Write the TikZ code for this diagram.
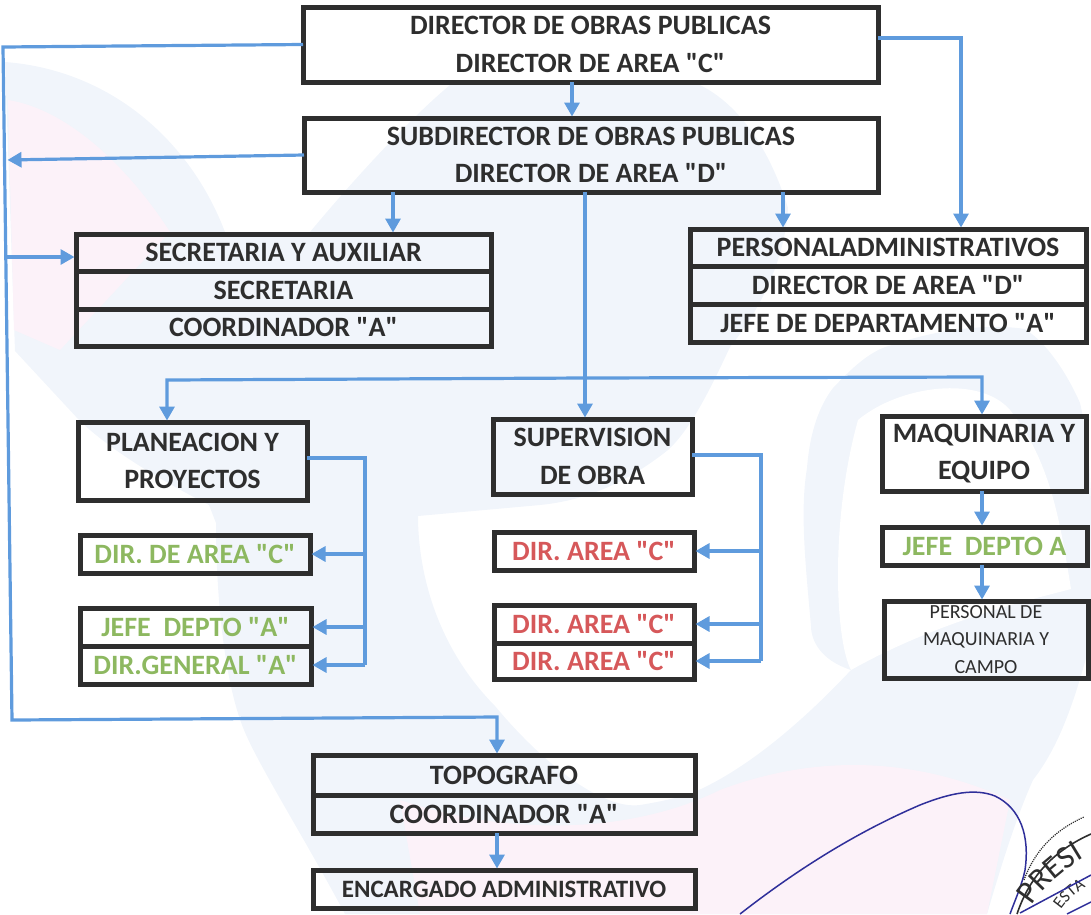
\documentclass[tikz,border=0pt]{standalone}
\usepackage{fontspec}
\newfontfamily\cb{Carlito}
\usetikzlibrary{arrows.meta,decorations.text}
\definecolor{ink}{HTML}{2E2E2E}
\definecolor{gr}{HTML}{8DB860}
\definecolor{rd}{HTML}{D6585A}
\definecolor{ar}{HTML}{5F9BDD}
\definecolor{wblue}{HTML}{F1F5FB}
\definecolor{wpink}{HTML}{FCF2F9}
\definecolor{sig}{HTML}{2F2F9A}
\tikzset{
 x=1pt,y=-1pt,
 boxx/.style={draw=ink,line width=5pt,outer sep=0pt,inner sep=0pt,align=center,text=ink,font=\cb\fontsize{28}{37.5}\selectfont\bfseries},
 conn/.style={draw=ar,line width=3.2pt},
 arr/.style={conn,-{Triangle[length=14pt,width=15pt]},shorten >=1.5pt},
}
\newcommand{\bx}[6]{%
 \node[boxx,#1,minimum width={#4-#2},minimum height={#5-#3},anchor=north west] at (#2,#3) {#6};}
\begin{document}
\begin{tikzpicture}
\useasboundingbox (0,0) rectangle (1091,914);
\clip (0,0) rectangle (1091,914);
% watermark
\fill[wblue] (5,62) .. controls (110,70) and (190,140) .. (225,232) -- (310,232) .. controls (370,160) and (420,110) .. (450,85)
 -- (700,85) .. controls (740,105) and (770,150) .. (788,208) .. controls (785,260) and (760,310) .. (730,347) .. controls (710,390) and (690,430) .. (668,450) .. controls (630,480) and (590,500) .. (540,505) -- (418,516) .. controls (418,560) and (430,640) .. (495,706) .. controls (540,760) and (600,810) .. (640,805) .. controls (670,800) and (690,795) .. (705,787) .. controls (740,770) and (790,735) .. (851,670) .. controls (820,660) and (811,640) .. (811,626) .. controls (805,560) and (800,510) .. (807,468) .. controls (810,430) and (820,405) .. (833,388) .. controls (850,370) and (870,350) .. (892,345) .. controls (950,325) and (1000,325) .. (1025,329) .. controls (1050,345) and (1070,380) .. (1080,403) .. controls (1091,450) and (1091,500) .. (1091,520) -- (1091,640) .. controls (1075,700) and (1060,745) .. (1033,780) .. controls (1015,820) and (1000,870) .. (987,914) -- (345,914) .. controls (300,830) and (255,760) .. (242,725) .. controls (225,680) and (216,600) .. (216,523) -- (209,505) .. controls (160,480) and (110,450) .. (79,420) -- (15,351) -- cycle;
\fill[white] (858,420) .. controls (900,385) and (980,375) .. (1010,410) .. controls (1050,460) and (1060,520) .. (1071,589) .. controls (1030,600) and (940,620) .. (851,670) .. controls (835,640) and (830,520) .. (858,420) -- cycle;
\fill[wpink] (400,800) .. controls (520,840) and (640,830) .. (720,790) .. controls (800,760) and (900,750) .. (1010,800) -- (987,914) -- (420,914) -- cycle;
\fill[wpink] (8,100) .. controls (70,110) and (130,170) .. (170,232) -- (60,350) -- (14,330) -- cycle;
% boxes
\bx{name=dir}{303}{7}{878}{82}{DIRECTOR DE OBRAS PUBLICAS\\DIRECTOR DE AREA "C"}
\bx{name=sub}{304}{118}{878}{192}{SUBDIRECTOR DE OBRAS PUBLICAS\\DIRECTOR DE AREA "D"}
\bx{name=sa}{76}{234}{491}{271}{SECRETARIA Y AUXILIAR}
\bx{name=sb}{76}{271}{491}{309}{SECRETARIA}
\bx{name=sc}{76}{309}{491}{346}{COORDINADOR "A"}
\bx{name=pa}{690}{229}{1086}{266}{PERSONALADMINISTRATIVOS}
\bx{name=pb}{690}{266}{1086}{304}{DIRECTOR DE AREA "D"}
\bx{name=pc}{690}{304}{1086}{342}{JEFE DE DEPARTAMENTO "A"}
\bx{name=plan}{78}{422}{307}{500}{PLANEACION Y\\PROYECTOS}
\bx{name=sup}{493}{419}{692}{494}{SUPERVISION\\DE OBRA}
\bx{name=maq}{882}{416}{1086}{491}{MAQUINARIA Y\\EQUIPO}
\bx{name=g1,text=gr}{80}{535}{310}{573}{DIR. DE AREA "C"}
\bx{name=g2,text=gr}{80}{608}{311}{646}{JEFE\ \ DEPTO "A"}
\bx{name=g3,text=gr}{80}{646}{311}{684}{DIR.GENERAL "A"}
\bx{name=r1,text=rd}{494}{532}{694}{570}{DIR. AREA "C"}
\bx{name=r2,text=rd}{494}{605}{694}{643}{DIR. AREA "C"}
\bx{name=r3,text=rd}{494}{643}{694}{679}{DIR. AREA "C"}
\bx{name=j,text=gr}{882}{527}{1087}{565}{JEFE\ \ DEPTO A}
\node[boxx,name=pm,minimum width=204,minimum height=77,anchor=north west,font=\cb\fontsize{20}{27.5}\selectfont] at (884,601) {PERSONAL DE\\MAQUINARIA Y\\CAMPO};
\bx{name=ta}{313}{755}{695}{795}{TOPOGRAFO}
\bx{name=tb}{313}{795}{695}{833}{COORDINADOR "A"}
\node[boxx,name=enc,minimum width=382,minimum height=38,anchor=north west,font=\cb\fontsize{25}{30}\selectfont\bfseries] at (313,870) {ENCARGADO ADMINISTRATIVO};
% connectors
\coordinate (tl) at (3,47);
\coordinate (tb2) at (12,720);
\coordinate (j1) at (6,160);
\coordinate (j2) at (7,257);
\coordinate (rA) at (961,38);
\coordinate (h1) at (167,380);
\coordinate (h2) at (982,377);
\coordinate (h0) at (585,378);
\coordinate (v1) at (365,458);
\coordinate (v2) at (761,455);
\draw[arr] (dir.west) -- (tl) -- (tb2) -- (497,717) -- ([xshift=-7pt]ta.north);
\draw[arr] ([xshift=-18.5pt]dir.south) -- ([xshift=-19pt]sub.north);
\draw[arr] ([yshift=6.5pt]dir.east) -- (rA) -- ([xshift=73pt]pa.north);
\draw[arr] (sub.west) -- (j1);
\draw[arr] (j2) -- (j2 -| sa.west);
\draw[arr] ([xshift=-198pt]sub.south) -- ([xshift=109.5pt]sa.north);
\draw[arr] ([xshift=192pt]sub.south) -- ([xshift=-105pt]pa.north);
\draw[arr] ([xshift=-6pt]sub.south) -- ([xshift=-7.5pt]sup.north);
\draw[arr] (h0) -- (h1) -- ([xshift=-25.5pt]plan.north);
\draw[arr] (h0) -- (h2) -- ([xshift=-2pt]maq.north);
\draw[conn] ([yshift=3pt]plan.east) -- (v1) -- (v1 |- g3.east);
\draw[arr] (v1 |- g1.east) -- (g1.east);
\draw[arr] (v1 |- g2.east) -- (g2.east);
\draw[arr] (v1 |- g3.east) -- (g3.east);
\draw[conn] ([yshift=1.5pt]sup.east) -- (v2) -- (v2 |- r3.east);
\draw[arr] (v2 |- r1.east) -- (r1.east);
\draw[arr] (v2 |- r2.east) -- (r2.east);
\draw[arr] (v2 |- r3.east) -- (r3.east);
\draw[arr] ([xshift=-2pt]maq.south) -- ([xshift=-2.5pt]j.north);
\draw[arr] ([xshift=-2.5pt]j.south) -- ([xshift=-4pt]pm.north);
\draw[arr] ([xshift=-7pt]tb.south) -- ([xshift=-7pt]enc.north);
% signature and stamp
\draw[sig,line width=1.5pt] (740,914) .. controls (790,875) and (850,835) .. (920,805) .. controls (950,793) and (975,788) .. (995,796) .. controls (1020,808) and (1030,835) .. (1025,870) .. controls (1022,885) and (1015,900) .. (1010,914);
\draw[ink,line width=1.6pt] (1017,914) .. controls (1030,875) and (1055,850) .. (1091,834);
\draw[ink,line width=1.2pt,densely dotted] (1024,880) .. controls (1035,850) and (1055,830) .. (1084,817);
\path[decorate,decoration={text along path,text={|\cb\fontsize{32}{32}\selectfont\color{ink}|PRESI},text align=left}] (1032,906) .. controls (1045,885) and (1070,862) .. (1110,845);
\path[decorate,decoration={text along path,text={|\cb\fontsize{17}{17}\selectfont\color{ink}|ESTA},text align=left}] (1061,910) .. controls (1066,902) and (1078,890) .. (1098,880);
\draw[sig,line width=1.5pt] (1020,913) -- (1091,875) (1067,914) -- (1091,902);
\end{tikzpicture}
\end{document}
